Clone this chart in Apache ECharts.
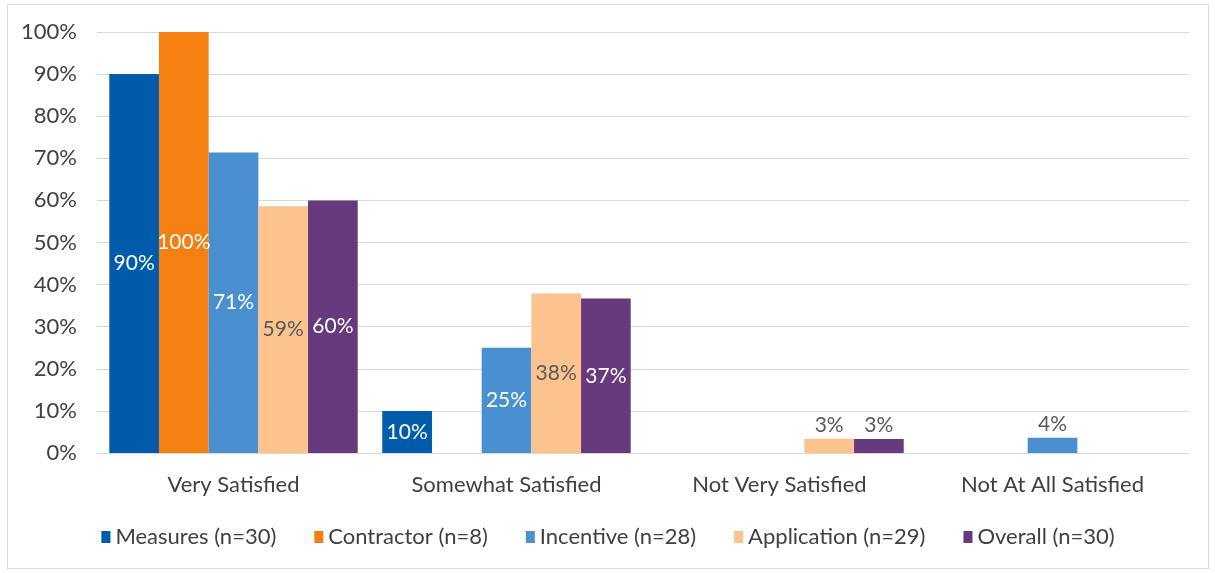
<!DOCTYPE html>
<html><head><meta charset="utf-8">
<script src="https://cdn.jsdelivr.net/npm/echarts@6/dist/echarts.min.js"></script>
<style>
html,body{margin:0;padding:0;background:#fff;}
#c{position:absolute;left:7px;top:4px;width:1202px;height:565px;border:1px solid #D9D9D9;box-sizing:border-box;}
</style></head>
<body><div id="c"></div>
<script>
const categories = ['Very Satisfied','Somewhat Satisfied','Not Very Satisfied','Not At All Satisfied'];
const seriesNames = ['Measures (n=30)','Contractor (n=8)','Incentive (n=28)','Application (n=29)','Overall (n=30)'];
const measures = [90, 10, 0, 0];
const contractor = [100, 0, 0, 0];
const incentive = [71.4, 25, 0, 3.6];
const application = [58.6, 37.9, 3.4, 0];
const overall = [60, 36.7, 3.3, 0];
const yTicks = [0,10,20,30,40,50,60,70,80,90,100];

const values = [measures, contractor, incentive, application, overall];
const colors = ['#005BAA','#F38011','#4A90D0','#FDC38F','#673A7E'];
const labelColors = ['#ffffff','#ffffff','#ffffff','#595959','#ffffff'];
const font = 'Lato, "Open Sans", sans-serif';

const chart = echarts.init(document.getElementById('c'));
const series = values.map((vals, i) => ({
  name: seriesNames[i],
  type: 'bar',
  barGap: '0%',
  barCategoryGap: '9%',
  itemStyle: {color: colors[i]},
  data: vals.map(v => {
    const small = v > 0 && v < 8;
    return {
      value: v,
      label: {
        show: v > 0,
        position: small ? 'top' : 'inside',
        color: small ? '#595959' : labelColors[i],
        distance: 3
      }
    };
  }),
  label: {
    fontFamily: font, fontSize: 21,
    formatter: p => p.value > 0 ? Math.round(p.value) + '%' : ''
  }
}));

chart.setOption({
  animation: false,
  grid: {left: 89, right: 19, top: 27, bottom: 115},
  legend: {
    bottom: 15, left: 'center', itemWidth: 9, itemHeight: 12, itemGap: 38,
    icon: 'rect',
    textStyle: {fontFamily: font, fontSize: 22, color: '#404040'},
    data: seriesNames
  },
  xAxis: {
    type: 'category', data: categories,
    axisLine: {lineStyle: {color: '#D9D9D9', width: 1}},
    axisTick: {show: false},
    axisLabel: {fontFamily: font, fontSize: 22, color: '#404040', margin: 21}
  },
  yAxis: {
    type: 'value', min: 0, max: 100, interval: 10,
    axisLine: {show: false}, axisTick: {show: false},
    splitLine: {lineStyle: {color: '#D9D9D9'}},
    axisLabel: {fontFamily: font, fontSize: 22, color: '#404040', margin: 20,
      formatter: v => yTicks.includes(v) ? v + '%' : ''}
  },
  series: series
});
</script></body></html>
